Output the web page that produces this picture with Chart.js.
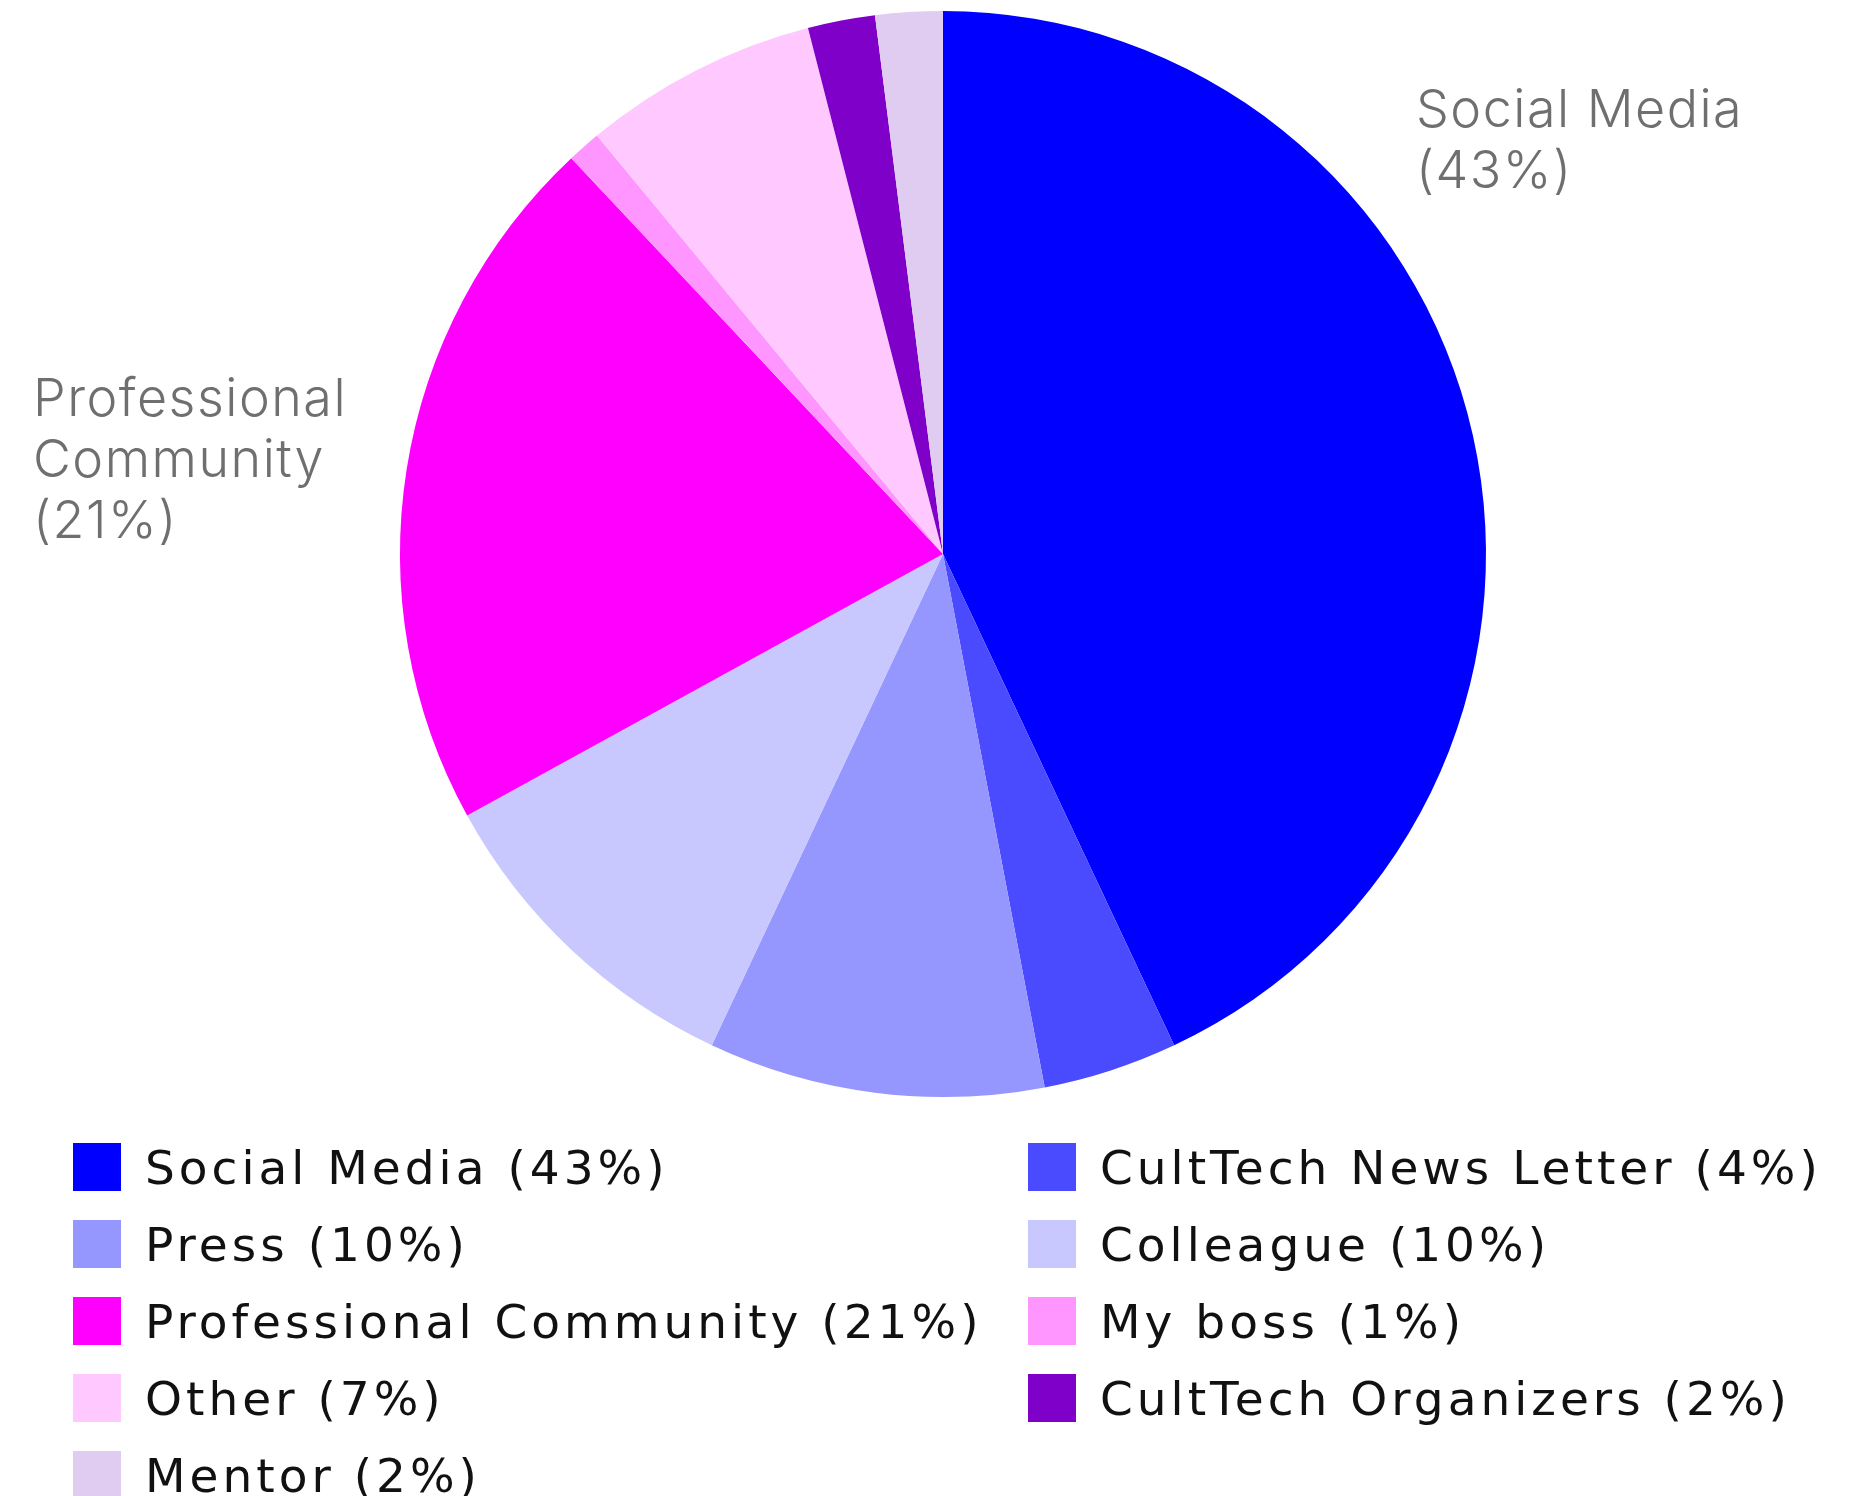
<!DOCTYPE html>
<html lang="en">
<head>
    <meta charset="UTF-8">
    <title>How did you hear about us</title>
    <script src="https://cdn.jsdelivr.net/npm/chart.js"></script>
    <style>
    body, html {
        margin: 0;
        padding: 0;
        width: 1857px;
        height: 1496px;
        background-color: #ffffff;
        overflow: hidden;
    }
    #chart-container {
        position: absolute;
        left: 0;
        top: 0;
        width: 1857px;
        height: 1496px;
    }
    .pie-label {
        position: absolute;
        font-family: Inter, "Open Sans", sans-serif;
        font-size: 52px;
        font-weight: 300;
        letter-spacing: 1.5px;
        line-height: 61px;
        color: #6f6f6f;
        white-space: nowrap;
    }
    #legend {
        position: absolute;
        left: 73px;
        top: 1143px;
        display: grid;
        grid-template-columns: 955px 800px;
        row-gap: 29px;
        font-family: "DejaVu Sans", sans-serif;
        font-size: 47px;
        letter-spacing: 4px;
        color: #111;
    }
    .legend-item {
        display: flex;
        align-items: center;
        height: 48px;
        white-space: nowrap;
    }
    .legend-box {
        width: 48px;
        height: 48px;
        margin-right: 24px;
        flex: none;
    }
    </style>
</head>
<body>
<div id="chart-container">
    <canvas id="pie"></canvas>
</div>
<div class="pie-label" style="left: 1416px; top: 78px;">Social Media<br>(43%)</div>
<div class="pie-label" style="left: 33px; top: 367px;">Professional<br>Community<br>(21%)</div>
<div id="legend"></div>
<script>
    const sources = ['Social Media', 'CultTech News Letter', 'Press', 'Colleague',
        'Professional Community', 'My boss', 'Other', 'CultTech Organizers', 'Mentor'];
    const shares = [43, 4, 10, 10, 21, 1, 7, 2, 2];
    const sliceColors = ['#0000ff', '#4a4aff', '#9696ff', '#c8c8ff',
        '#ff00ff', '#ff96ff', '#ffc8ff', '#7f00c8', '#e0ccf0'];

    // legend, two columns, row by row
    const legend = document.getElementById('legend');
    sources.forEach((name, i) => {
        const item = document.createElement('div');
        item.className = 'legend-item';
        const box = document.createElement('span');
        box.className = 'legend-box';
        box.style.backgroundColor = sliceColors[i];
        item.appendChild(box);
        item.appendChild(document.createTextNode(`${name} (${shares[i]}%)`));
        legend.appendChild(item);
    });

    const ctx = document.getElementById('pie').getContext('2d');
    window.pieChart = new Chart(ctx, {
        type: 'pie',
        data: {
            labels: sources,
            datasets: [{
                data: shares,
                backgroundColor: sliceColors,
                borderWidth: 0
            }]
        },
        options: {
            responsive: true,
            maintainAspectRatio: false,
            animation: false,
            layout: {
                padding: { left: 400, right: 371, top: 11, bottom: 399 }
            },
            plugins: {
                legend: { display: false },
                tooltip: { enabled: false }
            }
        }
    });
</script>
</body>
</html>
